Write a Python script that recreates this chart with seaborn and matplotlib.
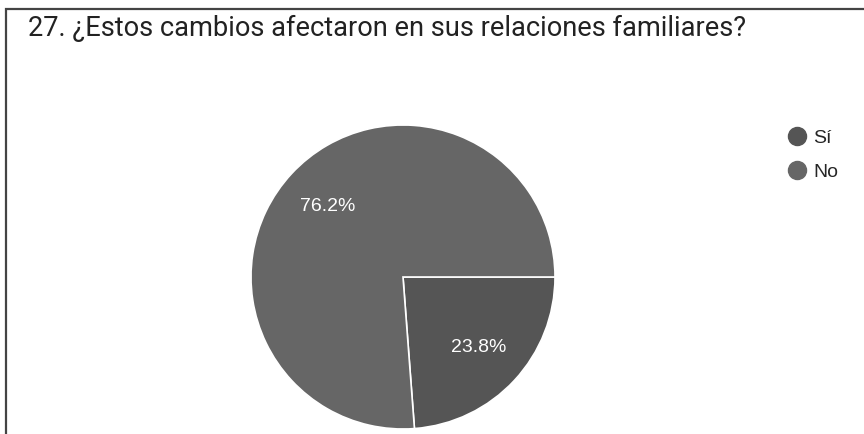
import matplotlib
matplotlib.use("Agg")
import matplotlib.pyplot as plt
from matplotlib.lines import Line2D
from matplotlib.patches import Rectangle
import seaborn as sns

# %% data
categories = ["Sí", "No"]
shares = [23.8, 76.2]
colors = ["#555555", "#666666"]
title = "27. ¿Estos cambios afectaron en sus relaciones familiares?"

# %% figure
sns.set_theme(style="white")
plt.rcParams['font.family'] = ['Liberation Sans', 'DejaVu Sans']

W, H = 864, 434
fig = plt.figure(figsize=(W / 100, H / 100), dpi=100)

# pie axes: center ~ (403, 277) px, radius ~152 px
cx, cy, half = 403, 277, 160
ax = fig.add_axes([(cx - half) / W, (H - cy - half) / H, 2 * half / W, 2 * half / H])
wedges, texts, autotexts = ax.pie(
    shares, colors=colors, startangle=0, counterclock=False,
    autopct='%1.1f%%', pctdistance=0.68,
    wedgeprops=dict(edgecolor='white', linewidth=1.2),
    textprops=dict(color='white', fontsize=14),
)
lim = half / 152
ax.set_xlim(-lim, lim)
ax.set_ylim(-lim, lim)
ax.axis('off')

# frame of the card
fig.add_artist(Rectangle((6 / W, -0.1), 1.0, (H - 9) / H + 0.1, transform=fig.transFigure,
                         fill=False, edgecolor='#444444', linewidth=1.6, clip_on=False))

fig.text(28 / W, 1 - 28 / H, title, family=['Roboto', 'DejaVu Sans'], fontsize=19.6,
         color='#222222', va='center', ha='left')

handles = [Line2D([], [], marker='o', linestyle='', markersize=13, markerfacecolor=c,
                  markeredgecolor=c) for c in colors]
fig.legend(handles, categories, loc='upper left', bbox_to_anchor=(786 / W, 1 - 129 / H),
           frameon=False, fontsize=14, handletextpad=0.3, labelspacing=0.85,
           handlelength=1.1, borderaxespad=0, borderpad=0)

fig.savefig('out.png', dpi=100)
